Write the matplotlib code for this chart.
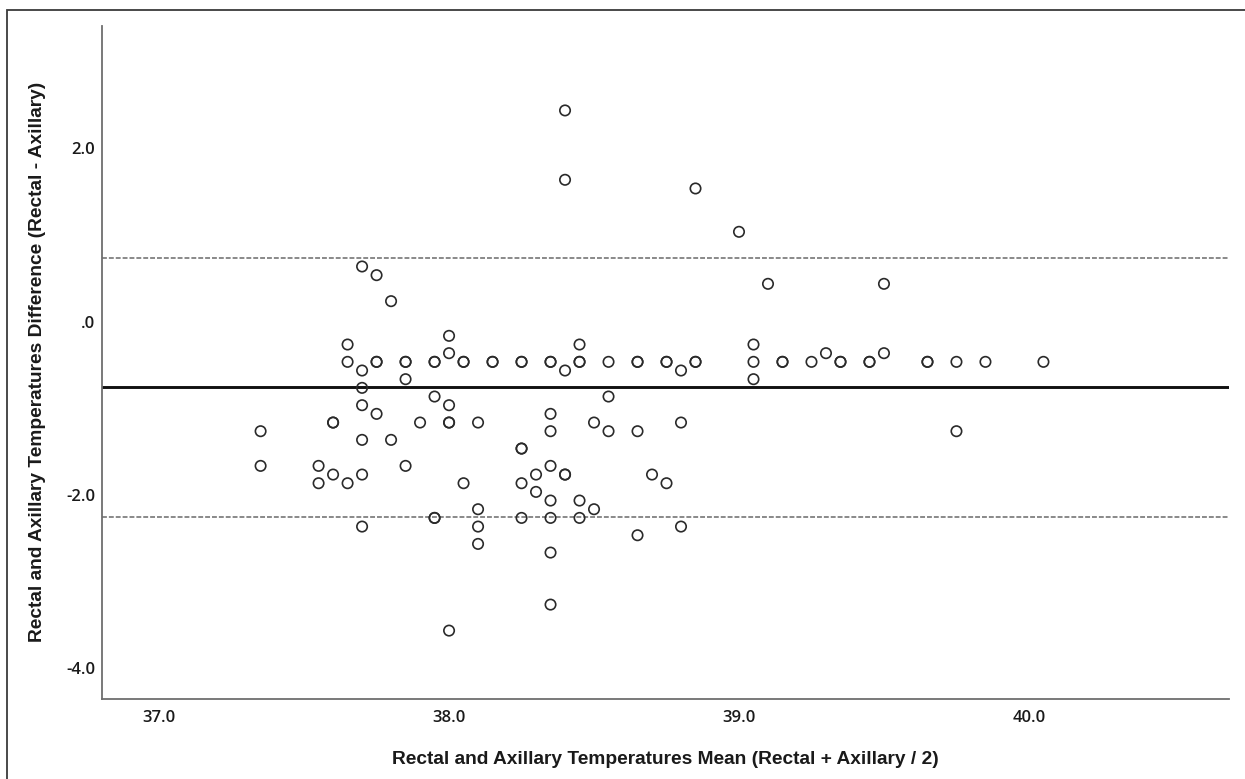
import matplotlib
matplotlib.use("Agg")
import matplotlib.pyplot as plt
import matplotlib.transforms as mtransforms
from matplotlib.patches import Rectangle

# ---- data; repeated entries = overlapping points ----
mean_temp = [
    37.35, 37.35,
    37.55, 37.55,
    37.60, 37.60, 37.60,
    37.65, 37.65, 37.65,
    37.70, 37.70, 37.70, 37.70, 37.70, 37.70, 37.70,
    37.75, 37.75, 37.75, 37.75,
    37.80, 37.80,
    37.85, 37.85, 37.85, 37.85,
    37.90,
    37.95, 37.95, 37.95, 37.95, 37.95,
    38.00, 38.00, 38.00, 38.00, 38.00, 38.00,
    38.05, 38.05, 38.05,
    38.10, 38.10, 38.10, 38.10,
    38.15, 38.15,
    38.25, 38.25, 38.25, 38.25, 38.25, 38.25,
    38.30, 38.30,
    38.35, 38.35, 38.35, 38.35, 38.35, 38.35, 38.35, 38.35, 38.35,
    38.40, 38.40, 38.40, 38.40, 38.40,
    38.45, 38.45, 38.45, 38.45, 38.45,
    38.50, 38.50,
    38.55, 38.55, 38.55,
    38.65, 38.65, 38.65, 38.65,
    38.70,
    38.75, 38.75, 38.75,
    38.80, 38.80, 38.80,
    38.85, 38.85, 38.85,
    39.00,
    39.05, 39.05, 39.05,
    39.10,
    39.15, 39.15,
    39.25,
    39.30,
    39.35, 39.35,
    39.45, 39.45,
    39.50, 39.50,
    39.65, 39.65,
    39.75, 39.75,
    39.85,
    40.05,
]
diff_temp = [
    -1.3, -1.7,
    -1.7, -1.9,
    -1.2, -1.2, -1.8,
    -0.3, -0.5, -1.9,
    0.6, -0.6, -0.8, -1.0, -1.4, -1.8, -2.4,
    0.5, -0.5, -0.5, -1.1,
    0.2, -1.4,
    -0.5, -0.5, -0.7, -1.7,
    -1.2,
    -0.5, -0.5, -0.9, -2.3, -2.3,
    -0.2, -0.4, -1.0, -1.2, -1.2, -3.6,
    -0.5, -0.5, -1.9,
    -1.2, -2.2, -2.4, -2.6,
    -0.5, -0.5,
    -0.5, -0.5, -1.5, -1.5, -1.9, -2.3,
    -1.8, -2.0,
    -0.5, -0.5, -1.1, -1.3, -1.7, -2.1, -2.3, -2.7, -3.3,
    2.4, 1.6, -0.6, -1.8, -1.8,
    -0.3, -0.5, -0.5, -2.1, -2.3,
    -1.2, -2.2,
    -0.5, -0.9, -1.3,
    -0.5, -0.5, -1.3, -2.5,
    -1.8,
    -0.5, -0.5, -1.9,
    -0.6, -1.2, -2.4,
    1.5, -0.5, -0.5,
    1.0,
    -0.3, -0.5, -0.7,
    0.4,
    -0.5, -0.5,
    -0.5,
    -0.4,
    -0.5, -0.5,
    -0.5, -0.5,
    0.4, -0.4,
    -0.5, -0.5,
    -0.5, -1.3,
    -0.5,
    -0.5,
]

mean_diff = -0.79
upper_loa = 0.70
lower_loa = -2.29

x_ticks = [37.0, 38.0, 39.0, 40.0]
x_tick_labels = ["37.0", "38.0", "39.0", "40.0"]
y_ticks = [2.0, 0.0, -2.0, -4.0]
y_tick_labels = ["2.0", ".0", "-2.0", "-4.0"]

x_label = "Rectal and Axillary Temperatures Mean (Rectal + Axillary / 2)"
y_label = "Rectal and Axillary Temperatures Difference (Rectal - Axillary)"

# ---- figure ----
W, H = 1245, 779
fig = plt.figure(figsize=(W / 100, H / 100), dpi=100)
fig.patch.set_facecolor("white")

# outer frame (cropped on right/bottom in the reference)
fig.patches.append(Rectangle((7 / W, -0.05), 1.2, 1 - 10 / H + 0.05,
                             transform=fig.transFigure, fill=False,
                             edgecolor="#3a3a3a", linewidth=1.3, zorder=0))

left, right = 102 / W, 1229 / W
top, bottom = 1 - 26 / H, 1 - 699 / H
ax = fig.add_axes([left, bottom, right - left, top - bottom])

ax.set_xlim(36.803, 40.69)
ax.set_ylim(-4.389, 3.374)

ax.axhline(upper_loa, color="#6a6a6a", linewidth=1.1, linestyle=(0, (3.2, 1.3)), zorder=1)
ax.axhline(lower_loa, color="#6a6a6a", linewidth=1.1, linestyle=(0, (3.2, 1.3)), zorder=1)
ax.axhline(mean_diff, color="#111111", linewidth=2.1, zorder=1)

ax.scatter(mean_temp, diff_temp, s=56, facecolors="none", edgecolors="#2a2a2a",
           linewidths=1.2, zorder=3)

for side in ["top", "right"]:
    ax.spines[side].set_visible(False)
for side in ["left", "bottom"]:
    ax.spines[side].set_color("#6e6e6e")
    ax.spines[side].set_linewidth(1.3)

tick_font = dict(family=["Open Sans", "DejaVu Sans"], weight="semibold", size=12)
ax.set_xticks(x_ticks)
ax.set_xticklabels(x_tick_labels, **tick_font)
ax.set_yticks(y_ticks)
ax.set_yticklabels(y_tick_labels, **tick_font)
ax.tick_params(axis="both", length=0, labelcolor="#1a1a1a")
ax.tick_params(axis="x", pad=8)
ax.tick_params(axis="y", pad=5)
for lab in ax.get_yticklabels():
    lab.set_transform(lab.get_transform() + mtransforms.ScaledTranslation(0, -3.0 / 100, fig.dpi_scale_trans))

label_font = dict(fontsize=13.8, fontweight="bold", family=["Liberation Sans", "DejaVu Sans"],
                  color="#1a1a1a")
fig.text((102 + 1229) / 2 / W, 1 - 764 / H, x_label, ha="center", va="baseline", **label_font)
fig.text(42 / W, 1 - 362 / H, y_label, ha="center", va="baseline", rotation=90,
         rotation_mode="anchor", **label_font)

fig.savefig("out.png", dpi=100)
